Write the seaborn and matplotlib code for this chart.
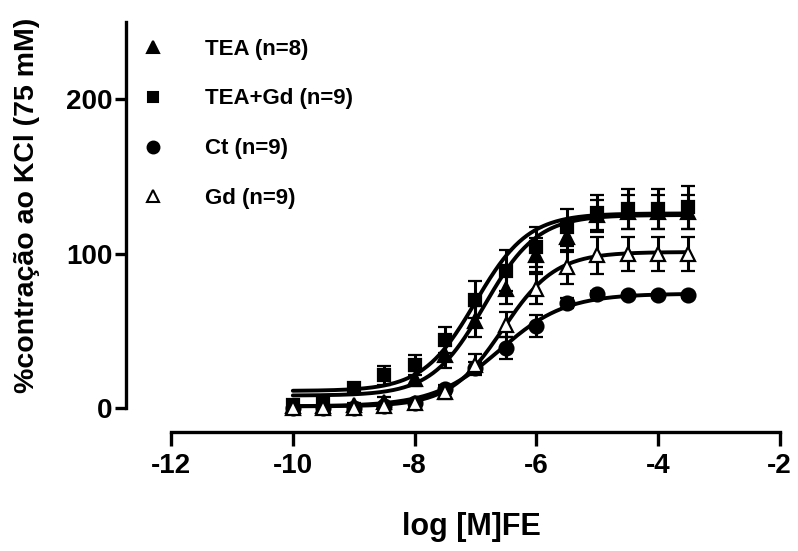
import numpy as np
import pandas as pd
import matplotlib
matplotlib.use('Agg')
import matplotlib.pyplot as plt
from matplotlib.lines import Line2D
import seaborn as sns

# ---- data ----
log_conc = [-10, -9.5, -9, -8.5, -8, -7.5, -7, -6.5, -6, -5.5, -5, -4.5, -4, -3.5]

tea_mean = [1, 1, 2, 4, 19, 34, 56, 77, 99, 111, 125, 127, 127, 127]
tea_sem = [1, 1, 1, 3, 5, 8, 10, 10, 11, 10, 10, 11, 11, 11]

teagd_mean = [2, 4, 13, 21, 28, 44, 70, 89, 104, 117, 126, 129, 129, 130]
teagd_sem = [1, 2, 3, 6, 6.5, 8.5, 12, 13, 13, 12, 12, 13, 13, 14]

ct_mean = [0, 0, 0, 1, 3, 12, 26, 39, 53, 68, 74, 73, 73, 73]
ct_sem = [0.5, 0.5, 0.5, 1, 1.5, 3, 4, 7, 7, 3, 2, 1.5, 1.5, 1.5]

gd_mean = [0, 0, 0, 1, 3, 10, 28, 54, 77, 91, 99, 100, 100, 100]
gd_sem = [0.5, 0.5, 0.5, 1, 2, 4, 7, 8, 10, 11, 12, 11, 11, 11]

labels = ['TEA (n=8)', 'TEA+Gd (n=9)', 'Ct (n=9)', 'Gd (n=9)']

# sigmoid fit parameters (bottom, top, logEC50, hill)
fit_bottom = [8, 11, 1, 1]
fit_top = [125, 126, 74, 101]
fit_logec50 = [-6.85, -7.0, -6.6, -6.55]
fit_hill = [1.0, 1.0, 0.8, 1.0]

# ---- style ----
sns.set_style('ticks')
plt.rcParams['font.family'] = ['Liberation Sans', 'DejaVu Sans']
plt.rcParams['font.weight'] = 'bold'
plt.rcParams['axes.unicode_minus'] = False
for k in ['text.color', 'axes.labelcolor', 'xtick.color', 'ytick.color', 'axes.edgecolor']:
    plt.rcParams[k] = 'black'

fig = plt.figure(figsize=(7.98, 5.51), dpi=100)
ax = fig.add_axes([0.158, 0.216, 0.977 - 0.158, 0.960 - 0.216])

means = [tea_mean, teagd_mean, ct_mean, gd_mean]
sems = [tea_sem, teagd_sem, ct_sem, gd_sem]
markers = ['^', 's', 'o', '^']
faces = ['black', 'black', 'black', 'white']
msizes = [9.5, 9, 10, 9.5]

# fitted curves
xfit = np.linspace(-10, -3.5, 300)
curves = []
for i, lab in enumerate(labels):
    yfit = fit_bottom[i] + (fit_top[i] - fit_bottom[i]) / (1 + 10 ** ((fit_logec50[i] - xfit) * fit_hill[i]))
    curves.append(pd.DataFrame({'x': xfit, 'y': yfit, 'grupo': lab}))
curves = pd.concat(curves)
sns.lineplot(data=curves, x='x', y='y', units='grupo', estimator=None,
             color='black', lw=2.8, ax=ax, legend=False, zorder=2)

# points with SEM
for i, lab in enumerate(labels):
    ax.errorbar(log_conc, means[i], yerr=sems[i], fmt=markers[i], ms=msizes[i],
                mfc=faces[i], mec='black', mew=1.6, ecolor='black', elinewidth=2.2,
                capsize=5, capthick=2.2, zorder=3)

ax.set_xlim(-12.74, -2)
ax.set_ylim(-15.6, 250)
ax.set_xticks([-12, -10, -8, -6, -4, -2])
ax.set_yticks([0, 100, 200])
sns.despine(ax=ax)
ax.spines['left'].set_bounds(0, 250)
ax.spines['bottom'].set_bounds(-12, -2)
for s in ['left', 'bottom']:
    ax.spines[s].set_linewidth(2.4)
ax.tick_params(axis='both', width=2.4, length=8, labelsize=20, pad=2)
ax.tick_params(axis='x', length=10, pad=5)
for t in ax.get_xticklabels() + ax.get_yticklabels():
    t.set_fontweight('bold')

ax.set_xlabel('log [M]FE', fontsize=22, fontweight='bold', va='top')
ax.xaxis.set_label_coords(0.529, -0.195)
ax.set_ylabel('%contração ao KCl (75 mM)', fontsize=20.5, fontweight='bold')
ax.yaxis.set_label_coords(-0.131, 0.554)

handles = [Line2D([], [], ls='none', marker=markers[i], ms=msizes[i] - 1.5, mfc=faces[i],
                  mec='black', mew=1.5) for i in range(4)]
ax.legend(handles, labels, loc='upper left', bbox_to_anchor=(0.164, 0.93),
          bbox_transform=fig.transFigure, frameon=False,
          handlelength=2.0, handletextpad=1.35, labelspacing=1.3, borderaxespad=0,
          borderpad=0, prop={'weight': 'bold', 'size': 16})

fig.savefig('out.png', dpi=100)
